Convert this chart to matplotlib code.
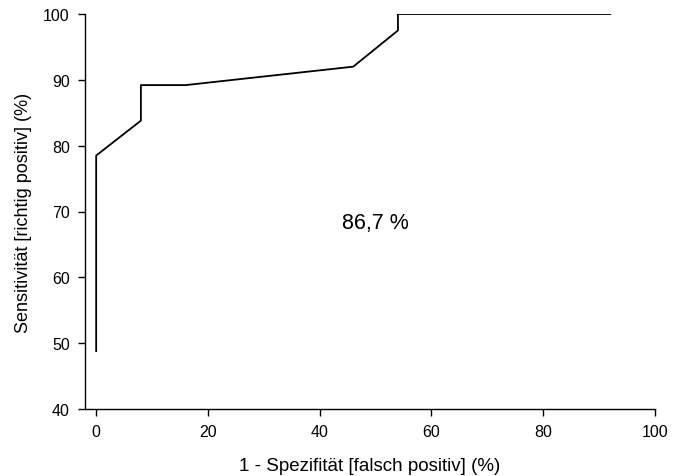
import matplotlib
matplotlib.use("Agg")
import matplotlib.pyplot as plt

plt.rcParams['font.family'] = ['Liberation Sans', 'DejaVu Sans']

fpr = [0, 0, 8, 8, 16, 46, 54, 54, 92]
tpr = [48.8, 78.5, 83.8, 89.2, 89.2, 92.0, 97.5, 100, 100]
xticks = [0, 20, 40, 60, 80, 100]
yticks = [40, 50, 60, 70, 80, 90, 100]
auc_text = "86,7 %"

fig = plt.figure(figsize=(6.82, 4.77), dpi=100)
ax = fig.add_axes([85/682, 1-410/477, (655-85)/682, (410-15)/477])
ax.plot(fpr, tpr, color='black', lw=1.3)
ax.set_xlim(-2, 100)
ax.set_ylim(40, 100)
ax.set_xticks(xticks)
ax.set_yticks(yticks)
for s in ['top', 'right']:
    ax.spines[s].set_visible(False)
for s in ['left', 'bottom']:
    ax.spines[s].set_linewidth(1.0)
ax.tick_params(direction='out', length=5, width=1.0, labelsize=11.5, pad=6)
ax.set_xlabel("1 - Spezifität [falsch positiv] (%)", fontsize=13.5, labelpad=13)
ax.set_ylabel("Sensitivität [richtig positiv] (%)", fontsize=13, labelpad=8)
ax.text(50, 68.3, auc_text, fontsize=15.5, ha='center', va='center')
fig.savefig("out.png", dpi=100)
